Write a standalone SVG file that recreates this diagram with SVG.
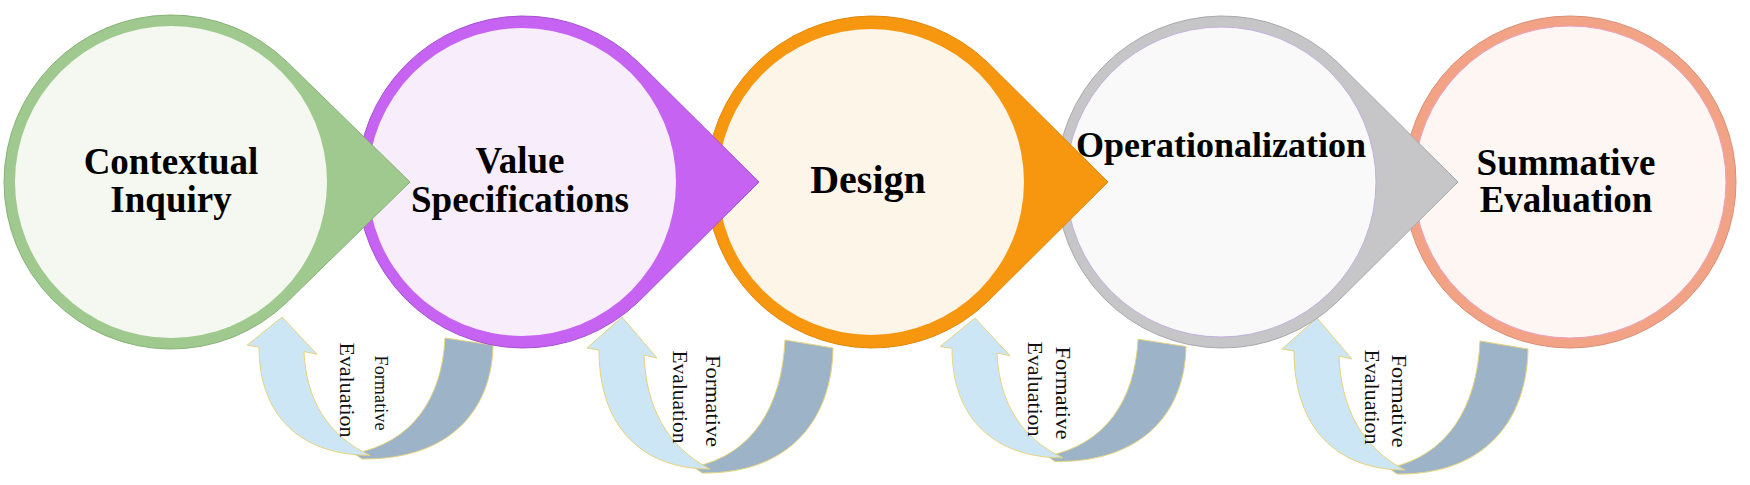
<svg xmlns="http://www.w3.org/2000/svg" xmlns:xlink="http://www.w3.org/1999/xlink" width="1750" height="485" viewBox="0 0 1750 485">
<style>
.lbl{font-family:"Liberation Serif","Times New Roman",serif;font-weight:bold;font-size:37px;fill:#000;text-anchor:middle}
.fe{font-family:"Liberation Serif","Times New Roman",serif;font-size:20px;fill:#111;text-anchor:middle}
.lt{fill:#cde6f6;stroke:#e6d27a;stroke-width:1}
.dk{fill:#9db4c8;stroke:#e6d27a;stroke-width:1}
</style>
<defs>
<g id="fe-arrow">
<path class="dk" d="M163,23 L211,31 C210,100 170,157 80,156 L72,150 C130,138 160,90 163,23 Z"/>
<path class="lt" d="M0,0 L35,41 L22,38 C24,90 45,130 88,152 C20,152 -23,110 -23,33 L-35,31 Z"/>
</g>
</defs>
<rect width="1750" height="485" fill="#fff"/>
<g id="connectors">
<use xlink:href="#fe-arrow" transform="translate(282,317) scale(1,0.91)"/>
<use xlink:href="#fe-arrow" transform="translate(622,317)"/>
<use xlink:href="#fe-arrow" transform="translate(975,318) scale(1,0.92)"/>
<use xlink:href="#fe-arrow" transform="translate(1317,318)"/>
<text class="fe" style="font-size:18px" textLength="75" lengthAdjust="spacingAndGlyphs" transform="translate(375,393) rotate(90)">Formative</text>
<text class="fe" textLength="95" lengthAdjust="spacingAndGlyphs" transform="translate(340,390) rotate(90)">Evaluation</text>
<text class="fe" textLength="92" lengthAdjust="spacingAndGlyphs" transform="translate(706,401) rotate(90)">Formative</text>
<text class="fe" textLength="93" lengthAdjust="spacingAndGlyphs" transform="translate(673,397) rotate(90)">Evaluation</text>
<text class="fe" textLength="93" lengthAdjust="spacingAndGlyphs" transform="translate(1056,393) rotate(90)">Formative</text>
<text class="fe" textLength="95" lengthAdjust="spacingAndGlyphs" transform="translate(1028,389) rotate(90)">Evaluation</text>
<text class="fe" textLength="93" lengthAdjust="spacingAndGlyphs" transform="translate(1392,401) rotate(90)">Formative</text>
<text class="fe" textLength="95" lengthAdjust="spacingAndGlyphs" transform="translate(1365,397) rotate(90)">Evaluation</text>
</g>
<g id="node-summative-evaluation">
<circle cx="1570" cy="182" r="166" fill="#f2a386" stroke="#d98e74" stroke-width="1"/>
<circle cx="1570" cy="182" r="156" fill="#fdf6f3" stroke="#e9a0c0" stroke-width="1"/>
</g>
<g id="node-operationalization">
<path d="M1458,182 L1337.7,62.5 A166,166 0 1 0 1337.7,301.5 Z" fill="#c6c6c9" stroke="#a9a9ad" stroke-width="1"/>
<circle cx="1221" cy="182" r="155" fill="#f9f9fa" stroke="#c2b0e0" stroke-width="1"/>
</g>
<g id="node-design">
<path d="M1108,182 L987.7,62.5 A166,166 0 1 0 987.7,301.5 Z" fill="#f7970f" stroke="#e0870a" stroke-width="1"/>
<circle cx="871" cy="182" r="153" fill="#fdf5e8"/>
</g>
<g id="node-value-specifications">
<path d="M759,182 L638.7,62.5 A166,166 0 1 0 638.7,301.5 Z" fill="#c763f2" stroke="#a64fd0" stroke-width="1"/>
<circle cx="522" cy="182" r="154" fill="#f8eefb"/>
</g>
<g id="node-contextual-inquiry">
<path d="M410,182 L287.7,62.5 A167,167 0 1 0 287.7,301.5 Z" fill="#9fc98e" stroke="#86b276" stroke-width="1"/>
<circle cx="171" cy="182" r="156" fill="#f4f8f0"/>
</g>
<g id="labels">
<text class="lbl" x="171" y="174">Contextual</text>
<text class="lbl" x="171" y="212">Inquiry</text>
<text class="lbl" x="520" y="173">Value</text>
<text class="lbl" x="520" y="212">Specifications</text>
<text class="lbl" x="868" y="193" style="font-size:40px">Design</text>
<text class="lbl" x="1221" y="157" style="font-size:36px">Operationalization</text>
<text class="lbl" x="1566" y="175">Summative</text>
<text class="lbl" x="1566" y="212">Evaluation</text>
</g>
</svg>
